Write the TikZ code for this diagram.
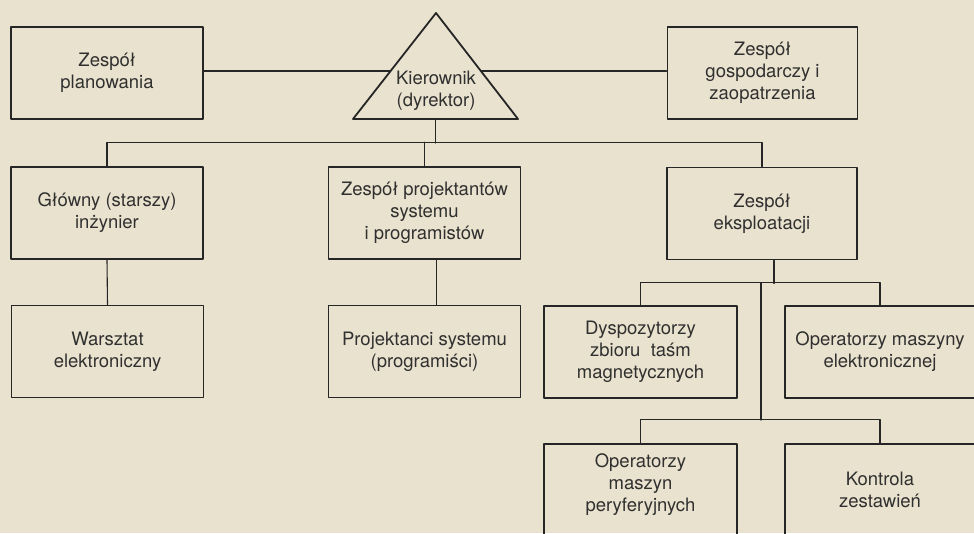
\documentclass[tikz,border=0pt]{standalone}
\usepackage{fontspec}
\setmainfont{TeX Gyre Heros}
\usetikzlibrary{calc}

\begin{document}
\begin{tikzpicture}[x=1pt,y=-1pt,line cap=round,line join=round,
  unit/.style={draw=ink,line width=1.8pt,minimum width=192,minimum height=92,
    inner sep=0pt,align=center,text=inktext,font=\fontsize{18.5}{22}\selectfont},
  link/.style={draw=ink,line width=1.1pt}]
\definecolor{paper}{HTML}{E9E2CE}
\definecolor{ink}{HTML}{262626}
\definecolor{inktext}{HTML}{303030}

\useasboundingbox (0,0) rectangle (974,533);
\fill[paper] (0,0) rectangle (974,533);
\clip (0,0) rectangle (974,533);

% head of the unit
\coordinate (apex) at (436,13);
\coordinate (baseL) at (353,119);
\coordinate (baseR) at (518,119);
\draw[ink,line width=1.8pt] (apex) -- (baseL) -- (baseR) -- cycle;
\node[text=inktext,font=\fontsize{18.5}{22}\selectfont,align=center] (kier) at (436,91)
  {Kierownik\\(dyrektor)};
\coordinate (triL) at ($(apex)!0.547!(baseL)$);
\coordinate (triR) at ($(apex)!0.547!(baseR)$);
\coordinate (triB) at ($(baseL)!0.5!(baseR)$);

% first row
\node[unit] (plan) at (107,73) {Zespół\\planowania};
\node[unit,minimum width=190] (gosp) at (762.5,73) {Zespół\\gospodarczy i\\zaopatrzenia};

% second row
\node[unit] (glow) at (107,213) {Główny (starszy)\\inżynier};
\node[unit] (proj) at (424.5,213) {Zespół projektantów\\systemu\\i programistów};
\node[unit,minimum width=190] (eksp) at (762,213.5) {Zespół\\eksploatacji};

% third row
\node[unit] (warsz) at (107.5,351.5) {Warsztat\\elektroniczny};
\node[unit] (progr) at (424.5,351.5) {Projektanci systemu\\(programiści)};
\node[unit,minimum width=193] (dysp) at (640.5,352) {Dyspozytorzy\\zbioru\ \ taśm\\magnetycznych};
\node[unit,minimum width=190] (opel) at (880,352) {Operatorzy maszyny\\elektronicznej};

% fourth row, running off the page
\node[unit,minimum width=193,text height=47.5pt] (peryf) at (640.5,490) {Operatorzy\\maszyn\\peryferyjnych};
\node[unit,minimum width=190] (kontr) at (880,490) {Kontrola\\zestawień};

% connectors
\draw[link] (plan.east |- triL) -- (triL);
\draw[link] (triR) -- (triR -| gosp.west);
\draw[link] (triB) -- ++(0,24);
\draw[link] (glow.north) -- ++(0,-24) -| (eksp.north);
\draw[link] (proj.north) -- ++(0,-24);
\draw[link] (glow.south) -- (warsz.north);
\draw[link] ([xshift=12]proj.south) -- ([xshift=12]progr.north);
\draw[link] ([xshift=12]eksp.south) -- ++(0,23);
\draw[link] (dysp.north) -- ++(0,-23) coordinate (busA) -| (opel.north);
\coordinate (spine) at (761,283);
\draw[link] (spine) -- ++(0,137);
\draw[link] (peryf.north) -- ++(0,-24) -| (kontr.north);
\end{tikzpicture}
\end{document}
